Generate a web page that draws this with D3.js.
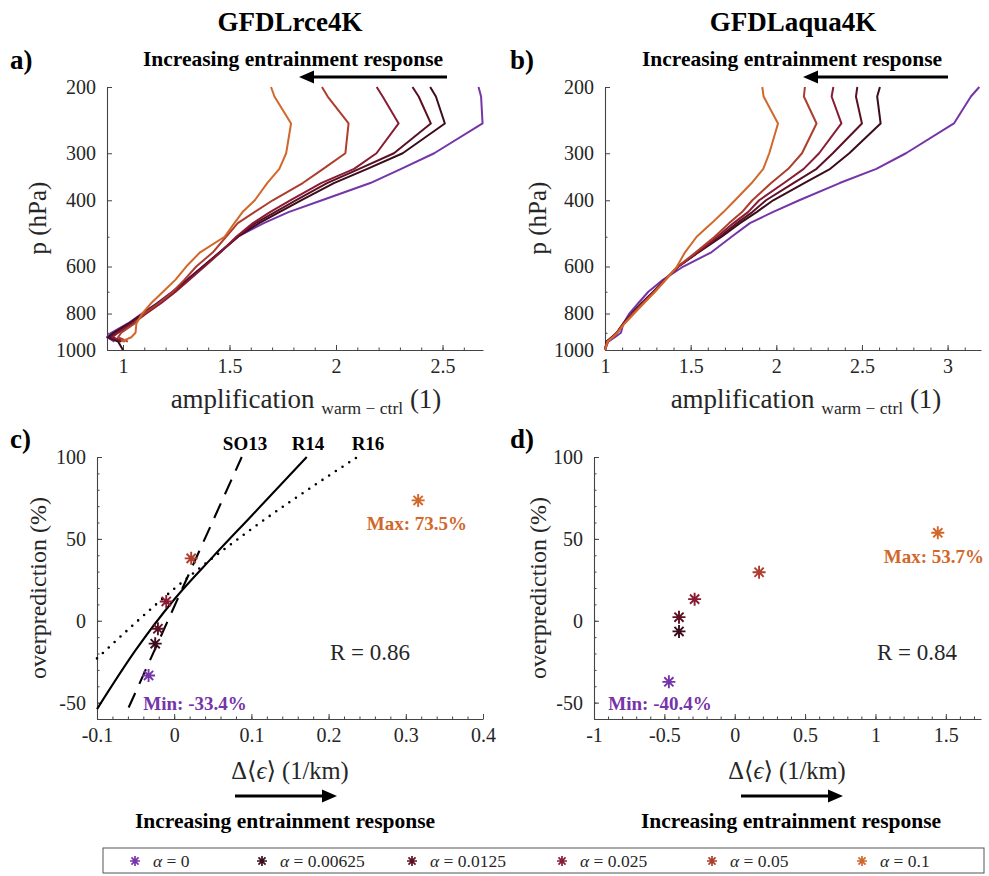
<!DOCTYPE html>
<html><head><meta charset="utf-8">
<script src="https://cdn.jsdelivr.net/npm/d3@7"></script>
<style>
body{margin:0;background:#fff;}
svg text{font-family:"Liberation Serif","DejaVu Serif",serif;}
</style></head>
<body><svg id="chart" width="989" height="876"></svg>
<script>
// ---------------- DATA ----------------
const pLevels = [200, 212, 250, 300, 330, 360, 400, 430, 460, 500, 550, 600, 650, 700, 750, 800, 850, 900, 925, 950, 1000];
const alphaLabels = ["0", "0.00625", "0.0125", "0.025", "0.05", "0.1"];
const alphaColors = ["#7535a8", "#3a0c1c", "#5c1024", "#891b34", "#ad3d2d", "#d2672a"];

// GFDLrce4K amplification (warm - ctrl) profiles
const rceAlpha0     = [2.669, 2.681, 2.688, 2.461, 2.306, 2.161, 1.934, 1.777, 1.661, 1.539, 1.453, 1.375, 1.300, 1.231, 1.161, 1.089, 1.023, 0.945, 0.925, 0.960, null];
const rceAlpha00625 = [2.442, 2.469, 2.511, 2.313, 2.147, 1.990, 1.836, 1.734, 1.639, 1.540, 1.455, 1.375, 1.305, 1.234, 1.164, 1.094, 1.028, 0.956, 0.930, 0.977, 1.000];
const rceAlpha0125  = [2.359, 2.388, 2.445, 2.272, 2.109, 1.958, 1.811, 1.714, 1.622, 1.539, 1.456, 1.378, 1.308, 1.238, 1.167, 1.098, 1.034, 0.966, 0.940, 0.992, null];
const rceAlpha025   = [2.191, 2.219, 2.294, 2.190, 2.085, 1.930, 1.785, 1.690, 1.610, 1.532, 1.458, 1.383, 1.313, 1.247, 1.180, 1.110, 1.047, 0.977, 0.950, 1.008, null];
const rceAlpha05    = [1.934, 1.961, 2.059, 2.044, 1.940, 1.844, 1.703, 1.617, 1.539, 1.484, 1.422, 1.344, 1.289, 1.234, 1.169, 1.100, 1.055, 0.992, 0.977, 1.023, null];
const rceAlpha1     = [1.695, 1.711, 1.789, 1.766, 1.734, 1.677, 1.619, 1.561, 1.523, 1.477, 1.362, 1.297, 1.247, 1.188, 1.133, 1.090, 1.063, 1.059, 1.039, 0.992, null];

// GFDLaqua4K amplification (warm - ctrl) profiles
const aquaAlpha0     = [3.185, 3.136, 3.037, 2.757, 2.584, 2.370, 2.134, 1.979, 1.846, 1.739, 1.621, 1.457, 1.340, 1.253, 1.195, 1.142, 1.107, 1.093, 1.058, 1.019, 1.000];
const aquaAlpha00625 = [2.605, 2.589, 2.609, 2.426, 2.315, 2.163, 1.982, 1.885, 1.788, 1.681, 1.545, 1.428, 1.350, 1.282, 1.214, 1.156, 1.107, 1.068, 1.039, 1.010, 1.000];
const aquaAlpha0125  = [2.473, 2.465, 2.500, 2.330, 2.235, 2.100, 1.940, 1.860, 1.770, 1.670, 1.545, 1.430, 1.352, 1.284, 1.216, 1.158, 1.109, 1.070, 1.040, 1.010, 1.000];
const aquaAlpha025   = [2.333, 2.323, 2.380, 2.250, 2.160, 2.045, 1.900, 1.835, 1.750, 1.655, 1.540, 1.428, 1.350, 1.285, 1.220, 1.160, 1.110, 1.068, 1.042, 1.012, 1.000];
const aquaAlpha05    = [2.167, 2.161, 2.235, 2.150, 2.070, 1.970, 1.860, 1.800, 1.725, 1.640, 1.530, 1.425, 1.355, 1.290, 1.225, 1.165, 1.112, 1.070, 1.045, 1.015, 1.000];
const aquaAlpha1     = [1.918, 1.926, 2.010, 1.959, 1.924, 1.856, 1.759, 1.691, 1.623, 1.535, 1.467, 1.420, 1.355, 1.292, 1.228, 1.170, 1.115, 1.072, 1.045, 1.015, 1.000];

// Scatter: change in entrainment vs overprediction
const rceDeltaEps  = [-0.0332, -0.0246, -0.0211, -0.0103, 0.022, 0.316];
const rceOverpred  = [-33.4, -14.0, -4.9, 11.8, 38.1, 73.5];
const aquaDeltaEps = [-0.468, -0.396, -0.396, -0.285, 0.173, 1.443];
const aquaOverpred = [-37.3, -6.5, 2.2, 13.2, 29.6, 53.7];

// Reference relationships (panel c)
const so13X = [-0.059, 0.0875];
const so13Y = [-53, 100];
const r14X = [-0.1, -0.05, 0, 0.05, 0.1, 0.1717];
const r14Y = [-54, -18, 13, 39, 64, 100];
const r16X = [-0.1, 0, 0.1, 0.2, 0.236];
const r16Y = [-23, 19.5, 56, 88.5, 99.6];

// Tick labels
const pTicks = [200, 300, 400, 600, 800, 1000];
const pMinor = [500, 700, 900];
const xTicksA = [1, 1.5, 2, 2.5];
const xTicksB = [1, 1.5, 2, 2.5, 3];
const xTicksC = [-0.1, 0, 0.1, 0.2, 0.3, 0.4];
const xTicksD = [-1, -0.5, 0, 0.5, 1, 1.5];
const yTicksCD = [-50, 0, 50, 100];

const rceSeries = [rceAlpha0, rceAlpha00625, rceAlpha0125, rceAlpha025, rceAlpha05, rceAlpha1];
const aquaSeries = [aquaAlpha0, aquaAlpha00625, aquaAlpha0125, aquaAlpha025, aquaAlpha05, aquaAlpha1];

// ---------------- DRAW ----------------
const svg = d3.select("#chart");
const TXT = "#262626", AX = "#444";
const FONT = "Liberation Serif, DejaVu Serif, serif";

const xA = d3.scaleLinear([0.925, 2.69], [107, 483]);
const yA = d3.scaleLog([200, 1000], [87, 350]);
const xB = d3.scaleLinear([1, 3.195], [605, 981]);
const yB = d3.scaleLog([200, 1000], [87, 350]);
const xC = d3.scaleLinear([-0.1, 0.4], [97, 483]);
const yC = d3.scaleLinear([-60, 100], [719, 457]);
const xD = d3.scaleLinear([-1, 1.75], [594, 981]);
const yD = d3.scaleLinear([-60, 100], [719, 457]);

const fmt = d => String(+(+d).toFixed(3));

function minorRange(scale, step) {
  const [a, b] = scale.domain();
  const out = [];
  for (let i = Math.ceil(a / step - 1e-9); i * step <= b + 1e-9; i++) out.push(+(i * step).toFixed(4));
  return out;
}

function styleAxis(g) {
  g.attr("font-family", FONT).attr("font-size", 20).attr("color", AX);
  g.selectAll("text").attr("fill", TXT);
  g.select(".domain").attr("stroke-width", 1.1);
}

function axes(x, y, xt, xm, yt, ym, yfmt) {
  const yb = Math.max(...y.range());
  const x0 = Math.min(...x.range());
  const g = svg.append("g");
  g.append("g").attr("transform", `translate(0,${yb})`)
    .call(d3.axisBottom(x).tickValues(xm).tickFormat("").tickSizeInner(-2.5).tickSizeOuter(0))
    .call(s => s.select(".domain").remove()).attr("color", AX);
  g.append("g").attr("transform", `translate(${x0},0)`)
    .call(d3.axisLeft(y).tickValues(ym).tickFormat("").tickSizeInner(-2.5).tickSizeOuter(0))
    .call(s => s.select(".domain").remove()).attr("color", AX);
  g.append("g").attr("transform", `translate(0,${yb})`)
    .call(d3.axisBottom(x).tickValues(xt).tickFormat(fmt).tickSizeInner(-5).tickSizeOuter(0).tickPadding(9))
    .call(styleAxis);
  g.append("g").attr("transform", `translate(${x0},0)`)
    .call(d3.axisLeft(y).tickValues(yt).tickFormat(yfmt || fmt).tickSizeInner(-5).tickSizeOuter(0).tickPadding(11))
    .call(styleAxis);
}

axes(xA, yA, xTicksA, minorRange(xA, 0.1), pTicks, pMinor, d => String(d));
axes(xB, yB, xTicksB, minorRange(xB, 0.1), pTicks, pMinor, d => String(d));
axes(xC, yC, xTicksC, minorRange(xC, 0.02), yTicksCD, minorRange(yC, 10));
axes(xD, yD, xTicksD, minorRange(xD, 0.1), yTicksCD, minorRange(yD, 10));

function profiles(x, y, series) {
  const line = d3.line().defined(d => d[0] != null).x(d => x(d[0])).y(d => y(d[1]));
  series.forEach((s, i) => {
    svg.append("path")
      .attr("d", line(s.map((v, k) => [v, pLevels[k]])))
      .attr("fill", "none").attr("stroke", alphaColors[i])
      .attr("stroke-width", 2).attr("stroke-linejoin", "round");
  });
}
profiles(xA, yA, rceSeries);
profiles(xB, yB, aquaSeries);

function refLine(xs, ys, dash, width, cap) {
  const line = d3.line().x((d) => xC(d[0])).y(d => yC(d[1])).curve(d3.curveMonotoneX);
  svg.append("path").attr("d", line(xs.map((v, k) => [v, ys[k]])))
    .attr("fill", "none").attr("stroke", "#000").attr("stroke-width", width)
    .attr("stroke-dasharray", dash).attr("stroke-linecap", cap);
}
refLine(r16X, r16Y, "0,8", 2.6, "round");
refLine(r14X, r14Y, null, 2.1, "butt");
refLine(so13X, so13Y, "16,10", 2.1, "butt");

function starPath(r) {
  const a = r * 0.7071;
  return `M${-r},0L${r},0M0,${-r}L0,${r}M${-a},${-a}L${a},${a}M${-a},${a}L${a},${-a}`;
}
function stars(x, y, xs, ys) {
  svg.append("g").selectAll("path").data(xs.map((v, i) => i)).join("path")
    .attr("d", starPath(6.5))
    .attr("transform", i => `translate(${x(xs[i])},${y(ys[i])})`)
    .attr("stroke", i => alphaColors[i]).attr("stroke-width", 1.9).attr("fill", "none");
}
stars(xC, yC, rceDeltaEps, rceOverpred);
stars(xD, yD, aquaDeltaEps, aquaOverpred);

// ---------- text ----------
function text(x, y, str, o = {}) {
  const t = svg.append("text").attr("x", x).attr("y", y).text(str)
    .attr("font-size", o.size || 20).attr("fill", o.fill || TXT)
    .attr("text-anchor", o.anchor || "middle")
    .attr("font-weight", o.bold ? "bold" : "normal");
  if (o.rotate) t.attr("transform", `rotate(-90,${x},${y})`);
  return t;
}

text(290, 31, "GFDLrce4K", { size: 27, bold: true, fill: "#000" });
text(793, 31, "GFDLaqua4K", { size: 27, bold: true, fill: "#000" });
text(10, 69, "a)", { size: 27, bold: true, anchor: "start", fill: "#000" });
text(510, 69, "b)", { size: 27, bold: true, anchor: "start", fill: "#000" });
text(10, 448, "c)", { size: 27, bold: true, anchor: "start", fill: "#000" });
text(510, 448, "d)", { size: 27, bold: true, anchor: "start", fill: "#000" });

function arrow(x1, x2, y) {
  const dir = Math.sign(x2 - x1);
  svg.append("line").attr("x1", x1).attr("x2", x2 - dir * 12).attr("y1", y).attr("y2", y)
    .attr("stroke", "#000").attr("stroke-width", 3);
  svg.append("path").attr("d", `M${x2},${y}L${x2 - dir * 15},${y - 6.5}L${x2 - dir * 15},${y + 6.5}Z`).attr("fill", "#000");
}
text(293, 66, "Increasing entrainment response", { size: 21.5, bold: true, fill: "#000" });
text(792, 66, "Increasing entrainment response", { size: 21.5, bold: true, fill: "#000" });
arrow(447, 299, 77);
arrow(948, 803, 77);
arrow(235, 337, 796);
arrow(741, 843, 796);
text(285, 828, "Increasing entrainment response", { size: 21.5, bold: true, fill: "#000" });
text(791, 828, "Increasing entrainment response", { size: 21.5, bold: true, fill: "#000" });

function ampLabel(cx) {
  const t = svg.append("text").attr("x", cx).attr("y", 408).attr("text-anchor", "middle")
    .attr("font-size", 27).attr("fill", TXT);
  t.append("tspan").text("amplification ");
  t.append("tspan").attr("font-size", 17.5).attr("dy", 6).text("warm \u2212 ctrl");
  t.append("tspan").attr("dy", -6).text(" (1)");
}
ampLabel(306);
ampLabel(806);
text(46, 218, "p (hPa)", { size: 25, rotate: true });
text(546, 218, "p (hPa)", { size: 25, rotate: true });
text(46, 588, "overprediction (%)", { size: 24, rotate: true });
text(546, 588, "overprediction (%)", { size: 24, rotate: true });
function epsLabel(cx) {
  const t = svg.append("text").attr("x", cx).attr("y", 779).attr("text-anchor", "middle")
    .attr("font-size", 24.5).attr("fill", TXT);
  t.append("tspan").text("\u0394\u27E8");
  t.append("tspan").attr("font-style", "italic").text("\u03F5");
  t.append("tspan").text("\u27E9 (1/km)");
}
epsLabel(290);
epsLabel(787);

text(245, 450, "SO13", { size: 19, bold: true, fill: "#000" });
text(308, 450, "R14", { size: 19, bold: true, fill: "#000" });
text(368, 450, "R16", { size: 19, bold: true, fill: "#000" });
text(417, 530, "Max: 73.5%", { size: 19, bold: true, fill: alphaColors[5] });
text(195, 710, "Min: -33.4%", { size: 19, bold: true, fill: alphaColors[0] });
text(370, 660, "R = 0.86", { size: 23 });
text(934, 563, "Max: 53.7%", { size: 19, bold: true, fill: alphaColors[5] });
text(660, 710, "Min: -40.4%", { size: 19, bold: true, fill: alphaColors[0] });
text(917, 660, "R = 0.84", { size: 23 });

const lg = svg.append("g");
lg.append("rect").attr("x", 103).attr("y", 848).attr("width", 881).attr("height", 25)
  .attr("fill", "#fff").attr("stroke", "#555").attr("stroke-width", 1);
alphaLabels.forEach((a, i) => {
  const sx = i === 0 ? 135 : 262 + (i - 1) * 150;
  lg.append("path").attr("d", starPath(5)).attr("transform", `translate(${sx},861)`)
    .attr("stroke", alphaColors[i]).attr("stroke-width", 1.7).attr("fill", "none");
  const t = lg.append("text").attr("x", sx + 18).attr("y", 867).attr("font-size", 17.5).attr("fill", TXT);
  t.append("tspan").attr("font-style", "italic").text("\u03B1");
  t.append("tspan").text(" = " + a);
});
</script>
</body></html>
